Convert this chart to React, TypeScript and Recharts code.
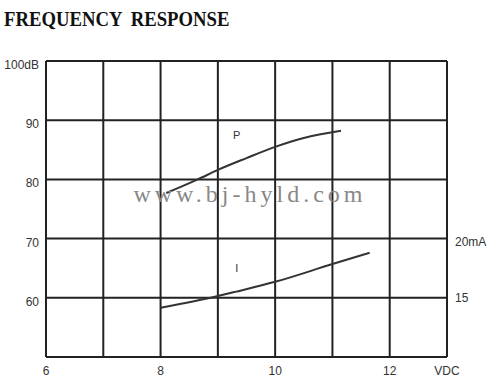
import React from 'react';
import { LineChart, Line, XAxis, YAxis, CartesianGrid, ReferenceDot } from 'recharts';

// supply voltage ticks (VDC) and their labels
const voltTicks = [6, 7, 8, 9, 10, 11, 12, 13];
const voltLabels = ['6', '', '8', '', '10', '', '12', 'VDC'];

// left axis: sound pressure (dB)
const dbTicks = [50, 60, 70, 80, 90, 100];
const dbLabels = ['', '60', '70', '80', '90', '100dB'];

// right axis: current (mA)
const maTicks = [15, 20];
const maLabels = ['15', '20mA'];

// P curve (dB)
const pVolts = [8.1, 8.65, 9, 9.5, 10, 10.5, 11.15];
const pDb = [77.7, 80, 81.6, 83.6, 85.5, 87.0, 88.2];

// I curve (mA)
const iVolts = [8, 9, 9.3, 10, 11, 11.65];
const iMa = [14.15, 15.15, 15.5, 16.35, 17.85, 18.8];

const pData = pVolts.map((v, i) => ({ v, db: pDb[i] }));
const iData = iVolts.map((v, i) => ({ v, ma: iMa[i] }));

const tickFont = { fontFamily: 'Liberation Sans, Arial, sans-serif', fontSize: 12, fill: '#333' };

const XTick = (props: any) => {
  const { x, y, payload } = props;
  const idx = voltTicks.indexOf(payload.value);
  return (
    <text x={x} y={y + 16} textAnchor="middle" {...tickFont}>
      {voltLabels[idx]}
    </text>
  );
};

const LeftTick = (props: any) => {
  const { x, y, payload } = props;
  const idx = dbTicks.indexOf(payload.value);
  return (
    <text x={x} y={y + 8} textAnchor="end" {...tickFont}>
      {dbLabels[idx]}
    </text>
  );
};

const RightTick = (props: any) => {
  const { x, y, payload } = props;
  const idx = maTicks.indexOf(payload.value);
  return (
    <text x={x} y={y + (idx === 0 ? 4 : 7)} textAnchor="start" {...tickFont}>
      {maLabels[idx]}
    </text>
  );
};

const labelFont = { fill: '#333', fontSize: 11, fontFamily: 'Liberation Sans, Arial, sans-serif' };

const App = () => {
  return (
    <div style={{ position: 'absolute', left: 0, top: 0, width: 500, height: 387, background: '#fff' }}>
      <div
        style={{
          position: 'absolute',
          left: 4,
          top: 7,
          fontFamily: 'Liberation Serif, serif',
          fontWeight: 'bold',
          fontSize: 22,
          lineHeight: '24px',
          wordSpacing: 5,
          color: '#111',
          whiteSpace: 'nowrap',
          transform: 'scaleX(0.85)',
          transformOrigin: 'left top',
        }}
      >
        FREQUENCY RESPONSE
      </div>
      <LineChart width={500} height={387} margin={{ top: 61, right: 0, bottom: 0, left: 0 }}>
        <CartesianGrid stroke="#222" strokeWidth={2} />
        <XAxis
          dataKey="v"
          type="number"
          domain={[6, 13]}
          ticks={voltTicks}
          axisLine={false}
          tickLine={false}
          tickSize={0}
          height={30}
          tick={<XTick />}
          allowDuplicatedCategory={false}
        />
        <YAxis
          type="number"
          domain={[50, 100]}
          ticks={dbTicks}
          axisLine={false}
          tickLine={false}
          tickSize={0}
          tickMargin={7}
          width={46}
          tick={<LeftTick />}
        />
        <YAxis
          yAxisId="ma"
          orientation="right"
          type="number"
          domain={[10, 35]}
          ticks={maTicks}
          axisLine={false}
          tickLine={false}
          tickSize={0}
          tickMargin={8}
          width={53}
          tick={<RightTick />}
        />
        <Line
          data={pData}
          dataKey="db"
          type="monotone"
          stroke="#333"
          strokeWidth={2}
          dot={false}
          isAnimationActive={false}
        />
        <Line
          data={iData}
          dataKey="ma"
          yAxisId="ma"
          type="monotone"
          stroke="#333"
          strokeWidth={2}
          dot={false}
          isAnimationActive={false}
        />
        <ReferenceDot
          x={9.33}
          y={87.5}
          r={0}
          fill="none"
          stroke="none"
          label={{ value: 'P', position: 'center', ...labelFont }}
        />
        <ReferenceDot
          x={9.33}
          y={65}
          r={0}
          fill="none"
          stroke="none"
          label={{ value: 'I', position: 'center', ...labelFont }}
        />
        <ReferenceDot
          x={9.56}
          y={77.6}
          r={0}
          fill="none"
          stroke="none"
          label={{
            value: 'www.bj-hyld.com',
            position: 'center',
            fill: '#888',
            fontSize: 24,
            fontFamily: 'Liberation Serif, serif',
            letterSpacing: 4,
          }}
        />
      </LineChart>
    </div>
  );
};

export default App;
